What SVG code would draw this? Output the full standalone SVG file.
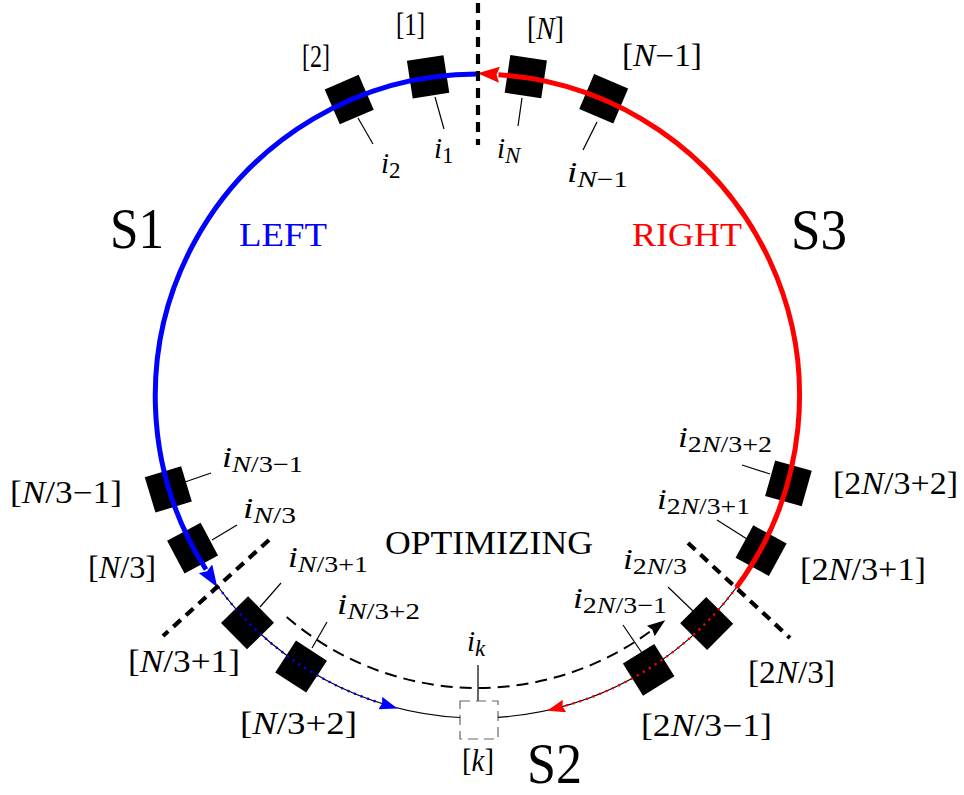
<svg xmlns="http://www.w3.org/2000/svg" width="964" height="795" viewBox="0 0 964 795">
<style>
.t{font-family:"Liberation Serif","Times New Roman","DejaVu Serif",serif;fill:#000}
.lb{font-size:31px}
.iv{font-size:29px}
.it{font-style:italic}
.sub{font-size:23px}
.big{font-size:58px}
.box{fill:#000}
.lead{stroke:#000;stroke-width:1.2;fill:none}
.thin{stroke:#000;stroke-width:1.2;fill:none}
.sep{stroke:#000;stroke-width:4.2;stroke-dasharray:10 7;fill:none}
</style>
<defs>
<marker id="ahB" markerUnits="userSpaceOnUse" markerWidth="23" markerHeight="16" viewBox="0 0 23 16" refX="1" refY="8" orient="auto"><path d="M0,0 L22,8 L0,16 L3,8 z" fill="#0000ff"/></marker>
<marker id="ahR" markerUnits="userSpaceOnUse" markerWidth="23" markerHeight="16" viewBox="0 0 23 16" refX="1" refY="8" orient="auto"><path d="M0,0 L22,8 L0,16 L3,8 z" fill="#ff0000"/></marker>
<marker id="ahBs" markerUnits="userSpaceOnUse" markerWidth="19" markerHeight="13" viewBox="0 0 19 13" refX="1" refY="6.5" orient="auto"><path d="M0,0 L18,6.5 L0,13 L2,6.5 z" fill="#0000ff"/></marker>
<marker id="ahRs" markerUnits="userSpaceOnUse" markerWidth="19" markerHeight="13" viewBox="0 0 19 13" refX="1" refY="6.5" orient="auto"><path d="M0,0 L18,6.5 L0,13 L2,6.5 z" fill="#ff0000"/></marker>
<marker id="ahK" markerUnits="userSpaceOnUse" markerWidth="19" markerHeight="13" viewBox="0 0 19 13" refX="1" refY="6.5" orient="auto"><path d="M0,0 L18,6.5 L0,13 L2,6.5 z" fill="#000"/></marker>
</defs>

<g id="leaders">
<line class="lead" x1="358" y1="118" x2="373" y2="144"/>
<line class="lead" x1="435" y1="97" x2="444" y2="129"/>
<line class="lead" x1="522" y1="98" x2="518" y2="126"/>
<line class="lead" x1="597" y1="122" x2="583" y2="150"/>
<line class="lead" x1="185" y1="482" x2="211" y2="473"/>
<line class="lead" x1="212" y1="540" x2="237" y2="525"/>
<line class="lead" x1="260" y1="607" x2="281" y2="583"/>
<line class="lead" x1="312" y1="648" x2="327" y2="622"/>
<line class="lead" x1="742" y1="465" x2="770" y2="474"/>
<line class="lead" x1="717" y1="520" x2="747" y2="539"/>
<line class="lead" x1="668" y1="587" x2="693" y2="611"/>
<line class="lead" x1="623" y1="625" x2="642" y2="653"/>
<line class="lead" x1="478" y1="665" x2="478" y2="701"/>
</g>

<g id="node-1"><rect class="box" x="-18.5" y="-19" width="37" height="38" transform="translate(477.5,396) rotate(-8.8) translate(0,-323)"/></g>
<g id="node-2"><rect class="box" x="-18.5" y="-19" width="37" height="38" transform="translate(477.5,396) rotate(-23.4) translate(0,-323)"/></g>
<g id="node-N"><rect class="box" x="-18.5" y="-19" width="37" height="38" transform="translate(477.5,396) rotate(8.6) translate(0,-323)"/></g>
<g id="node-N-1"><rect class="box" x="-18.5" y="-19" width="37" height="38" transform="translate(477.5,396) rotate(23) translate(0,-323)"/></g>
<g id="node-N3-1"><rect class="box" x="-18.5" y="-19" width="37" height="38" transform="translate(477.5,396) rotate(-106.8) translate(0,-323)"/></g>
<g id="node-N3"><rect class="box" x="-18.5" y="-19" width="37" height="38" transform="translate(477.5,396) rotate(-118.1) translate(0,-323)"/></g>
<g id="node-N3p1"><rect class="box" x="-18.5" y="-19" width="37" height="38" transform="translate(477.5,396) rotate(-134.6) translate(0,-323)"/></g>
<g id="node-N3p2"><rect class="box" x="-18.5" y="-19" width="37" height="38" transform="translate(477.5,396) rotate(-146.9) translate(0,-323)"/></g>
<g id="node-2N3p2"><rect class="box" x="-18.5" y="-19" width="37" height="38" transform="translate(477.5,396) rotate(105.7) translate(0,-323)"/></g>
<g id="node-2N3p1"><rect class="box" x="-18.5" y="-19" width="37" height="38" transform="translate(477.5,396) rotate(118.6) translate(0,-323)"/></g>
<g id="node-2N3"><rect class="box" x="-18.5" y="-19" width="37" height="38" transform="translate(477.5,396) rotate(134.8) translate(0,-323)"/></g>
<g id="node-2N3-1"><rect class="box" x="-18.5" y="-19" width="37" height="38" transform="translate(477.5,396) rotate(148) translate(0,-323)"/></g>
<g id="node-k"><rect x="460" y="701" width="38" height="38" fill="#fff" stroke="#666" stroke-width="1.2" stroke-dasharray="10 6"/></g>

<g id="connectors">
<path class="thin" d="M218.6,587.5 A322,322 0 0 0 460,717.5"/>
<path class="thin" d="M736.4,587.5 A322,322 0 0 1 498,717.3"/>
<path d="M286.7,617 A292,292 0 0 0 651.6,630.4" fill="none" stroke="#000" stroke-width="2" stroke-dasharray="12 7" marker-end="url(#ahK)"/>
<path d="M477.5,74 A322,322 0 0 0 206,569.5" fill="none" stroke="#0000ff" stroke-width="5" marker-end="url(#ahB)"/>
<path d="M736.4,587.5 A322,322 0 0 0 498.5,74.7" fill="none" stroke="#ff0000" stroke-width="5" marker-end="url(#ahR)"/>
<path d="M218.6,587.5 A322,322 0 0 0 381.2,703.3" fill="none" stroke="#0000ff" stroke-width="2.6" stroke-linecap="round" stroke-dasharray="0 7" marker-end="url(#ahBs)"/>
<path d="M736.4,587.5 A322,322 0 0 1 563.5,706.3" fill="none" stroke="#ff0000" stroke-width="2.6" stroke-linecap="round" stroke-dasharray="0 7" marker-end="url(#ahRs)"/>
</g>

<g id="separators">
<line class="sep" x1="478" y1="3" x2="478" y2="145"/>
<line class="sep" x1="269" y1="540" x2="163" y2="636"/>
<line class="sep" x1="688" y1="543" x2="790" y2="638"/>
</g>

<g id="labels">
<text class="t lb" x="396" y="35" textLength="29" lengthAdjust="spacingAndGlyphs">[1]</text>
<text class="t lb" x="302" y="67" textLength="28" lengthAdjust="spacingAndGlyphs">[2]</text>
<text class="t lb" x="527" y="39" textLength="37" lengthAdjust="spacingAndGlyphs">[<tspan class="it">N</tspan>]</text>
<text class="t lb" x="622" y="66" textLength="80" lengthAdjust="spacingAndGlyphs">[<tspan class="it">N</tspan>−1]</text>
<text class="t lb" x="10" y="503" textLength="112" lengthAdjust="spacingAndGlyphs">[<tspan class="it">N</tspan>/3−1]</text>
<text class="t lb" x="88" y="578" textLength="68" lengthAdjust="spacingAndGlyphs">[<tspan class="it">N</tspan>/3]</text>
<text class="t lb" x="128" y="672" textLength="112" lengthAdjust="spacingAndGlyphs">[<tspan class="it">N</tspan>/3+1]</text>
<text class="t lb" x="240" y="734" textLength="117" lengthAdjust="spacingAndGlyphs">[<tspan class="it">N</tspan>/3+2]</text>
<text class="t lb" x="833" y="494" textLength="125" lengthAdjust="spacingAndGlyphs">[2<tspan class="it">N</tspan>/3+2]</text>
<text class="t lb" x="800" y="580" textLength="126" lengthAdjust="spacingAndGlyphs">[2<tspan class="it">N</tspan>/3+1]</text>
<text class="t lb" x="748" y="683" textLength="87" lengthAdjust="spacingAndGlyphs">[2<tspan class="it">N</tspan>/3]</text>
<text class="t lb" x="641" y="736" textLength="131" lengthAdjust="spacingAndGlyphs">[2<tspan class="it">N</tspan>/3−1]</text>
<text class="t lb" x="462" y="771" textLength="32" lengthAdjust="spacingAndGlyphs">[<tspan class="it">k</tspan>]</text>

<text class="t iv" x="381" y="173"><tspan class="it">i</tspan><tspan class="sub" dy="5">2</tspan></text>
<text class="t iv" x="434" y="158"><tspan class="it">i</tspan><tspan class="sub" dy="5">1</tspan></text>
<text class="t iv" x="497" y="158"><tspan class="it">i</tspan><tspan class="sub it" dy="5">N</tspan></text>
<text class="t iv" x="567" y="182" textLength="61" lengthAdjust="spacingAndGlyphs"><tspan class="it">i</tspan><tspan class="sub" dy="5"><tspan class="it">N</tspan>−1</tspan></text>
<text class="t iv" x="222" y="467" textLength="81" lengthAdjust="spacingAndGlyphs"><tspan class="it">i</tspan><tspan class="sub" dy="5"><tspan class="it">N</tspan>/3−1</tspan></text>
<text class="t iv" x="243" y="518" textLength="53" lengthAdjust="spacingAndGlyphs"><tspan class="it">i</tspan><tspan class="sub" dy="5"><tspan class="it">N</tspan>/3</tspan></text>
<text class="t iv" x="288" y="567" textLength="80" lengthAdjust="spacingAndGlyphs"><tspan class="it">i</tspan><tspan class="sub" dy="5"><tspan class="it">N</tspan>/3+1</tspan></text>
<text class="t iv" x="337" y="614" textLength="83" lengthAdjust="spacingAndGlyphs"><tspan class="it">i</tspan><tspan class="sub" dy="5"><tspan class="it">N</tspan>/3+2</tspan></text>
<text class="t iv" x="678" y="447" textLength="94" lengthAdjust="spacingAndGlyphs"><tspan class="it">i</tspan><tspan class="sub" dy="5">2<tspan class="it">N</tspan>/3+2</tspan></text>
<text class="t iv" x="657" y="509" textLength="93" lengthAdjust="spacingAndGlyphs"><tspan class="it">i</tspan><tspan class="sub" dy="5">2<tspan class="it">N</tspan>/3+1</tspan></text>
<text class="t iv" x="623" y="569" textLength="64" lengthAdjust="spacingAndGlyphs"><tspan class="it">i</tspan><tspan class="sub" dy="5">2<tspan class="it">N</tspan>/3</tspan></text>
<text class="t iv" x="573" y="608" textLength="94" lengthAdjust="spacingAndGlyphs"><tspan class="it">i</tspan><tspan class="sub" dy="5">2<tspan class="it">N</tspan>/3−1</tspan></text>
<text class="t iv" x="467" y="651"><tspan class="it">i</tspan><tspan class="sub it" dy="5">k</tspan></text>

<text class="t big" x="110" y="248" textLength="54" lengthAdjust="spacingAndGlyphs">S1</text>
<text class="t big" x="791" y="249" textLength="56" lengthAdjust="spacingAndGlyphs">S3</text>
<text class="t big" x="527" y="783" textLength="55" lengthAdjust="spacingAndGlyphs">S2</text>
<text class="t" x="239" y="246" font-size="33" textLength="88" lengthAdjust="spacingAndGlyphs" style="fill:#0000ff">LEFT</text>
<text class="t" x="632" y="246" font-size="33" textLength="110" lengthAdjust="spacingAndGlyphs" style="fill:#ff0000">RIGHT</text>
<text class="t" x="385" y="554" font-size="33" textLength="208" lengthAdjust="spacingAndGlyphs">OPTIMIZING</text>
</g>
</svg>
